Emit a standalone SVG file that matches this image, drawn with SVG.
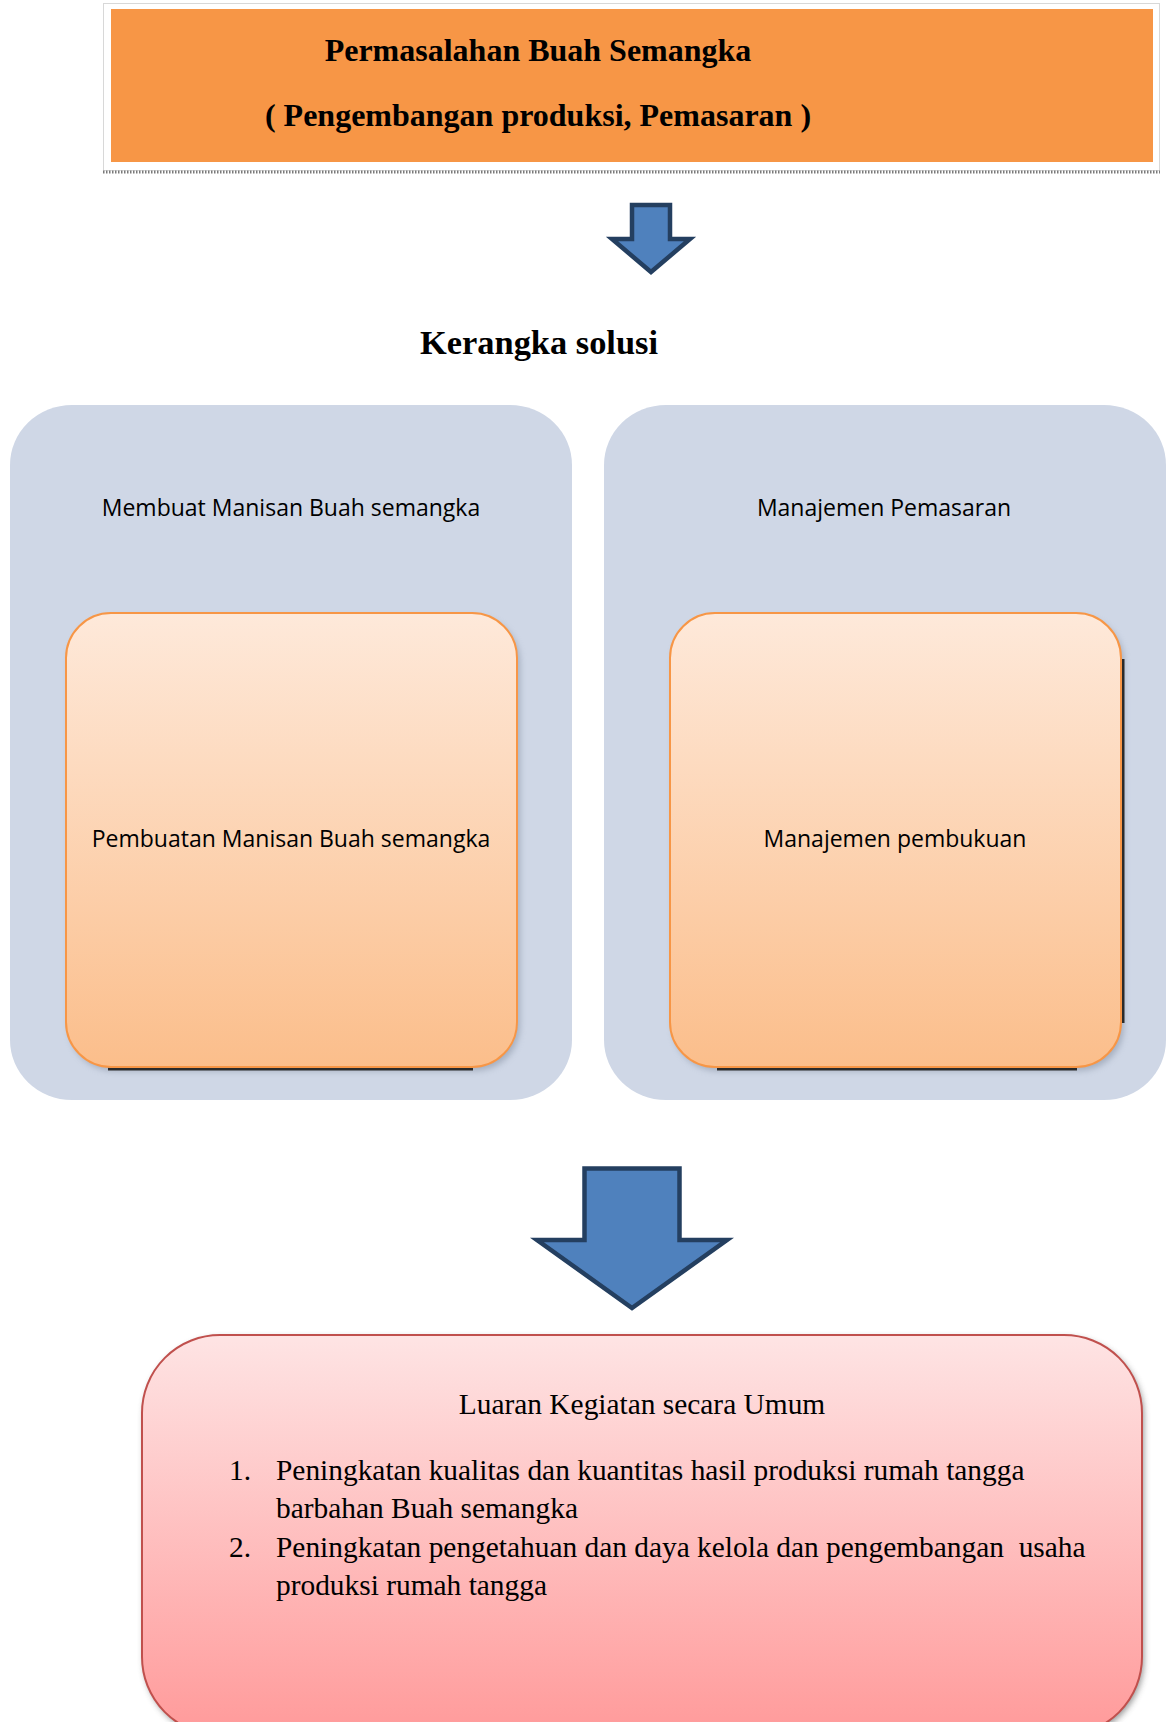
<svg xmlns="http://www.w3.org/2000/svg" width="1168" height="1722" viewBox="0 0 1168 1722">
<defs>
<style>
.title{font-family:"Liberation Serif","Times New Roman",serif;font-weight:bold;font-size:32px;fill:#000}
.head{font-size:34.4px}
.sans{font-family:"Open Sans","Liberation Sans",sans-serif;font-size:23px;fill:#000}
.serif{font-family:"Liberation Serif","Times New Roman",serif;font-size:29.4px;fill:#000}
.panel{fill:#CFD7E6}
.inner{fill:url(#gOrange);stroke:#F79646;stroke-width:2}
.arrow{fill:#4F81BD;stroke:#243F60;stroke-width:4.5;stroke-linejoin:miter}
.shadowline{stroke:#2a2a2a;stroke-width:3;fill:none}
</style>
<linearGradient id="gOrange" x1="0" y1="0" x2="0" y2="1">
<stop offset="0" stop-color="#FEE9DA"/>
<stop offset="1" stop-color="#FBBE8B"/>
</linearGradient>
<linearGradient id="gPink" x1="0" y1="0" x2="0" y2="1">
<stop offset="0" stop-color="#FEE4E4"/>
<stop offset="1" stop-color="#FF9A9A"/>
</linearGradient>
<filter id="soft" x="-10%" y="-10%" width="120%" height="120%">
<feGaussianBlur stdDeviation="3"/>
</filter>
</defs>

<g id="problem">
<rect x="103.5" y="3.5" width="1056" height="167" fill="#fff" stroke="#d8d8d8" stroke-width="1"/>
<rect x="111" y="9" width="1042" height="153" fill="#F79646"/>
<line x1="103" y1="172" x2="1160" y2="172" stroke="#7a7a7a" stroke-width="3" stroke-dasharray="1.5 1.5"/>
<text class="title" x="538" y="61" text-anchor="middle">Permasalahan Buah Semangka</text>
<text class="title" x="538" y="126" text-anchor="middle">( Pengembangan produksi, Pemasaran )</text>
</g>

<g id="heading">
<text class="title head" x="539" y="354" text-anchor="middle">Kerangka solusi</text>
</g>

<g id="panel-left">
<rect class="panel" x="10" y="405" width="562" height="695" rx="62" ry="60"/>
<text class="sans" x="291" y="516" text-anchor="middle">Membuat Manisan Buah semangka</text>
</g>

<g id="panel-right">
<rect class="panel" x="604" y="405" width="562" height="695" rx="62" ry="60"/>
<text class="sans" x="884" y="516" text-anchor="middle">Manajemen Pemasaran</text>
</g>

<g id="box-left">
<rect x="69" y="617" width="451" height="454" rx="45" fill="#8a94a6" opacity="0.6" filter="url(#soft)"/>
<path class="shadowline" d="M108 1069 H473"/>
<rect class="inner" x="66" y="613" width="451" height="454" rx="45"/>
<text class="sans" x="291" y="847" text-anchor="middle">Pembuatan Manisan Buah semangka</text>
</g>

<g id="box-right">
<rect x="673" y="617" width="451" height="454" rx="45" fill="#8a94a6" opacity="0.6" filter="url(#soft)"/>
<path class="shadowline" d="M717 1069 H1077 M1123 659 V1023"/>
<rect class="inner" x="670" y="613" width="451" height="454" rx="45"/>
<text class="sans" x="895" y="847" text-anchor="middle">Manajemen pembukuan</text>
</g>

<g id="outcome">
<rect x="144" y="1338" width="1000" height="400" rx="78" fill="#555" opacity="0.6" filter="url(#soft)"/>
<rect x="142" y="1335" width="1000" height="400" rx="78" fill="url(#gPink)" stroke="#C0504D" stroke-width="2"/>
<text class="serif" x="642" y="1414" text-anchor="middle">Luaran Kegiatan secara Umum</text>
<text class="serif" x="229" y="1480">1.</text>
<text class="serif" x="276" y="1480">Peningkatan kualitas dan kuantitas hasil produksi rumah tangga</text>
<text class="serif" x="276" y="1518">barbahan Buah semangka</text>
<text class="serif" x="229" y="1557">2.</text>
<text class="serif" x="276" y="1557" style="white-space:pre">Peningkatan pengetahuan dan daya kelola dan pengembangan  usaha</text>
<text class="serif" x="276" y="1595">produksi rumah tangga</text>
</g>

<g id="connectors">
<path class="arrow" d="M632 205 H670 V239 H690 L651 272 L612 239 H632 Z"/>
<path class="arrow" d="M584.5 1168.5 H679.5 V1240 H727 L632 1308 L537 1240 H584.5 Z"/>
</g>
</svg>
